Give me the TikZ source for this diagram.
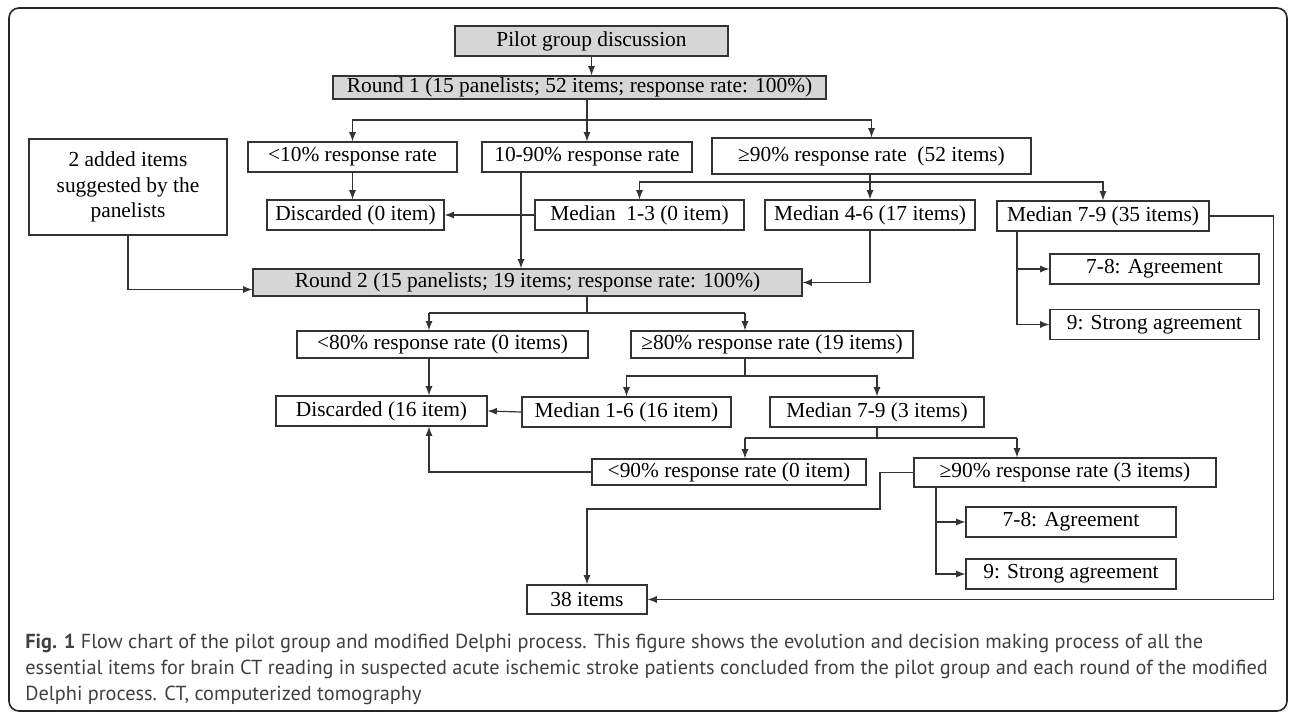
\documentclass[tikz,border=0pt]{standalone}
\usepackage{fontspec}
\setmainfont{Liberation Serif}
\newfontfamily\capfont{PT Sans}
\usepackage{tikz}
\usetikzlibrary{arrows}

\begin{document}
\begin{tikzpicture}[x=0.5pt,y=-0.5pt,>=latex,
		box/.style={draw=black!80,line width=0.6pt,fill=white,inner sep=0pt,minimum height=15pt,font=\fontsize{10.7}{12.75}\selectfont},
		grey/.style={box,fill=black!16},
		link/.style={draw=black!80,line width=0.6pt}]
		\useasboundingbox (0,0) rectangle (1290,713);
		\draw[black!85,line width=0.8pt,rounded corners=5pt] (9,8) rectangle (1287,711);
		\node[grey,minimum width=136.5pt] (P) at (591.5,41) {Pilot group discussion};
		\node[grey,minimum width=246.5pt,minimum height=11.5pt] (R1) at (579.5,87.5) {Round 1 (15 panelists;\ 52 items;\ response rate: 100\%)};
		\node[box,minimum width=104.5pt] (L10) at (352.5,157) {<10\% response rate};
		\node[box,minimum width=105pt] (M1090) at (587,157) {10-90\% response rate};
		\node[box,minimum width=159.5pt,minimum height=18pt] (G90) at (871.5,156) {≥90\% response rate\ \ (52 items)};
		\node[box,minimum width=99pt,minimum height=48pt,align=center] (ADD) at (128,187) {2 added items\\suggested by the\\panelists};
		\node[box,minimum width=88.5pt] (D0) at (355.5,215) {Discarded (0 item)};
		\node[box,minimum width=104.5pt] (M13) at (639.5,215) {Median\ \ 1-3 (0 item)};
		\node[box,minimum width=105pt] (M46) at (870,215) {Median 4-6 (17 items)};
		\node[box,minimum width=106pt] (M79a) at (1103,216) {Median 7-9 (35 items)};
		\node[grey,minimum width=274.5pt,minimum height=13.5pt] (R2) at (527.5,282.5) {Round 2 (15 panelists;\ 19 items; response rate: 100\%)};
		\node[box,minimum width=104.5pt] (AGa) at (1154.5,269) {7-8: Agreement};
		\node[box,minimum width=104.5pt] (STa) at (1154.5,324.5) {9: Strong agreement};
		\node[box,minimum width=145.5pt,minimum height=13.5pt] (L80) at (442.5,344.5) {<80\% response rate (0 items)};
		\node[box,minimum width=141pt,minimum height=13.5pt] (G80) at (772,344.5) {≥80\% response rate (19 items)};
		\node[box,minimum width=105.5pt] (D16) at (381.5,411) {Discarded\ (16 item)};
		\node[box,minimum width=104.5pt] (M16) at (626.5,412) {Median\ 1-6 (16 item)};
		\node[box,minimum width=107pt] (M79b) at (877,412) {Median\ 7-9 (3 items)};
		\node[box,minimum width=137pt,minimum height=13pt] (L90) at (729,472) {<90\% response rate (0 item)};
		\node[box,minimum width=151pt,minimum height=14.5pt] (G90b) at (1065,472.5) {≥90\% response rate (3 items)};
		\node[box,minimum width=105pt] (AGb) at (1071,522) {7-8: Agreement};
		\node[box,minimum width=105pt] (STb) at (1071,574) {9: Strong agreement};
		\node[box,minimum width=60pt,minimum height=14.5pt] (I38) at (587,599.5) {38 items};
		\node[anchor=north west,align=left,inner sep=0pt,text=black!75,font=\capfont\fontsize{10.15}{13}\selectfont] (CAP) at (25,634)
			{\textbf{Fig. 1} Flow chart of the pilot group and modified Delphi process. This figure shows the evolution and decision making process of all the\\
			essential items for brain CT reading in suspected acute ischemic stroke patients concluded from the pilot group and each round of the modified\\
			Delphi process. CT, computerized tomography};
		%
		\coordinate (b1) at (587,120);
		\coordinate (b2) at (871,182);
		\coordinate (b3) at (587,313);
		\coordinate (b3l) at (429,313);
		\coordinate (b3r) at (745,313);
		\coordinate (b4) at (745,376);
		\coordinate (b5l) at (745,438);
		\coordinate (b5r) at (1017,438);
		\coordinate (k1) at (880,509);
		%
		\path[->,black!80,line width=0.6pt]
		(P.south) edge (P.south |- R1.north)
		(M1090.north |- R1.south) edge (M1090.north)
		(L10.south) edge (L10.south |- D0.north)
		(M13.west) edge (D0.east)
		(M46.north |- G90.south) edge (M46.north)
		([xshift=-33pt]M1090.south) edge ([xshift=-33pt]M1090.south |- R2.north)
		(M16.west) edge (D16.east)
		(b3l |- L80.south) edge (b3l |- D16.north)
		(b3l) edge (b3l |- L80.north)
		(b3r) edge (b3r |- G80.north)
		(b5l) edge (b5l |- L90.north)
		(b5r) edge (b5r |- G90b.north);
		\draw[link,->] (b1) -| (L10.north);
		\draw[link,->] (b1) -| (G90.north);
		\draw[link,->] (b2) -| (M13.north);
		\draw[link,->] (b2) -| (M79a.north);
		\draw[link,->] (ADD.south) |- ([yshift=-3.5pt]R2.west);
		\draw[link,->] (M46.south) |- (R2.east);
		\draw[link,->] ([xshift=-43pt]M79a.south) |- (AGa.west);
		\draw[link,->] ([xshift=-43pt]M79a.south) |- (STa.west);
		\draw[link,->] (M79a.east) -- ++(32pt,0) |- (I38.east);
		\draw[link] (R2.south -| b3) -- (b3);
		\draw[link] (b3l) -- (b3r);
		\draw[link] (b4 |- G80.south) -- (b4);
		\draw[link,->] (b4) -| (M16.north);
		\draw[link,->] (b4) -| (M79b.north);
		\draw[link] (M79b.south) -- (M79b.south |- b5l);
		\draw[link] (b5l) -- (b5r);
		\draw[link,->] (L90.west) -| (b3l |- D16.south);
		\draw[link,->] (G90b.west) -| (k1) -| (I38.north);
		\draw[link,->] ([xshift=-64.5pt]G90b.south) |- (AGb.west);
		\draw[link,->] ([xshift=-64.5pt]G90b.south) |- (STb.west);
\end{tikzpicture}
\end{document}
